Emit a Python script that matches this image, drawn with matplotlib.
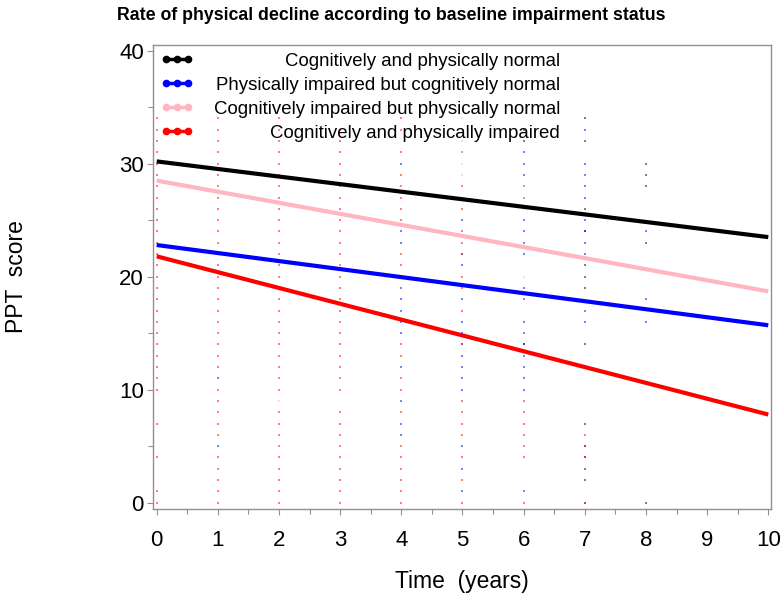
import numpy as np
import matplotlib.pyplot as plt
from matplotlib.lines import Line2D
from matplotlib.ticker import MultipleLocator

plt.rcParams['font.family'] = ['Liberation Sans', 'DejaVu Sans']

# fitted lines (value at year 0 and year 10)
line_years = [0, 10]
fit_normal = [30.2, 23.5]
fit_phys = [22.8, 15.7]
fit_cog = [28.5, 18.7]
fit_both = [21.8, 7.8]

labels = ['Cognitively and physically normal',
          'Physically impaired but cognitively normal',
          'Cognitively impaired but physically normal',
          'Cognitively and physically impaired']
colors = ['black', '#0000ff', '#ffb6c1', '#ff0000']

# observed scores per year (tiny dots)
obs_normal = {
    6: [14, 32, 33],
    7: [2, 3, 4, 5, 7, 14, 19, 20, 21, 24, 26, 32, 34],
    8: [0, 23, 28, 29, 30],
}
obs_phys = {
    1: [5, 11],
    4: [6, 7, 9, 12, 15, 16, 17, 18, 19, 23, 24, 30],
    5: [1, 3, 5, 10, 11, 12, 13, 14, 15, 16, 18, 21, 22, 25, 27, 31],
    6: [1, 10, 11, 12, 13, 14, 15, 16, 18, 19, 22, 23, 24, 25, 27, 28, 29, 30, 31],
    7: [0, 16, 17, 22, 23, 24, 25, 27, 28, 29, 30, 33],
    8: [16, 18, 24],
}
obs_cog = {
    2: [9, 35],
    5: [29, 30, 31, 32, 33, 34],
    6: [26, 27, 28, 20],
}
obs_both = {
    0: [0, 1, 4, 7, 10, 11, 12, 13, 14, 15, 16, 17, 18, 19, 20, 21, 22, 23, 24,
        25, 26, 27, 28, 29, 30, 31, 32, 33, 34],
    1: [0, 1, 2, 3, 4, 6, 7, 8, 9, 10, 12, 13, 14, 15, 16, 17, 18, 19, 20, 21,
        22, 23, 24, 25, 26, 27, 28, 29, 30, 31, 32, 33, 34],
    2: [0, 1, 2, 3, 4, 5, 6, 7, 8, 10, 11, 12, 13, 14, 15, 16, 17, 18, 19, 20,
        21, 22, 23, 24, 25, 26, 27, 28, 29, 30, 31, 32, 33, 34],
    3: [0, 1, 2, 3, 4, 5, 6, 7, 8, 10, 11, 12, 13, 14, 15, 16, 17, 18, 19, 20,
        21, 22, 23, 24, 25, 26, 27, 28, 29, 30, 31, 32, 33],
    4: [0, 1, 2, 3, 4, 5, 8, 10, 11, 13, 14, 20, 21, 22, 25, 26, 27, 28, 29,
        31, 33, 34],
    5: [0, 2, 4, 6, 7, 8, 9, 14, 17, 19, 20, 22, 23, 24, 26, 28],
    6: [0, 4, 5, 6, 7, 8, 9],
    7: [0, 4, 5, 6],
}

fig = plt.figure(figsize=(7.82, 5.97), dpi=100)
ax = fig.add_axes([0.1953, 0.1474, 0.7903, 0.7772])

# dots first
for obs, c in zip([obs_normal, obs_phys, obs_cog, obs_both], colors):
    xs, ys = [], []
    for yr, vals in obs.items():
        xs += [yr] * len(vals)
        ys += vals
    ax.scatter(xs, ys, s=1.2, marker='s', c=c, linewidths=0, alpha=0.5, zorder=2)

for fit, c in zip([fit_normal, fit_phys, fit_cog, fit_both], colors):
    ax.plot(line_years, fit, color=c, lw=3, solid_capstyle='butt', zorder=3)

ax.set_xlim(-0.065, 10.04)
ax.set_ylim(-0.56, 40.5)
ax.xaxis.set_major_locator(MultipleLocator(1))
ax.xaxis.set_minor_locator(MultipleLocator(0.5))
ax.yaxis.set_major_locator(MultipleLocator(10))
ax.yaxis.set_minor_locator(MultipleLocator(5))
ax.tick_params(which='major', length=4.3, width=0.8, color='#909090',
               labelsize=16, direction='out')
ax.tick_params(which='minor', length=3.5, width=0.8, color='#909090', direction='out')
ax.tick_params(axis='x', pad=11)
ax.tick_params(axis='y', pad=2)
for s in ax.spines.values():
    s.set_color('#909090')
    s.set_linewidth(1)

ax.set_xlabel('Time  (years)', fontsize=16.5, labelpad=13.5)
ax.set_ylabel('PPT  score', fontsize=16.5)
ax.yaxis.set_label_coords(-0.202, 0.5)
fig.suptitle('Rate of physical decline according to baseline impairment status',
             fontsize=12.8, fontweight='bold', x=0.5, y=0.988)

# legend: handles on the left, text right aligned
handles = [Line2D([0], [0], color=c, lw=2.5, marker='o', markersize=4.5)
           for c in colors]
leg = ax.legend(handles=handles, labels=labels, loc='upper left',
                bbox_to_anchor=(0.012, 0.983), borderaxespad=0, borderpad=0,
                frameon=False, numpoints=3, handlelength=1.8, fontsize=13.4,
                labelspacing=0.37, handletextpad=0.8)
fig.canvas.draw()
rend = fig.canvas.get_renderer()
right_px = 560
for t in leg.get_texts():
    bb = t.get_window_extent(rend)
    yc = (bb.y0 + bb.y1) / 2
    t.set_visible(False)
    fig.text(right_px / fig.bbox.width, yc / fig.bbox.height, t.get_text(),
             ha='right', va='center', fontsize=13.4)

fig.savefig('out.png', dpi=100)
